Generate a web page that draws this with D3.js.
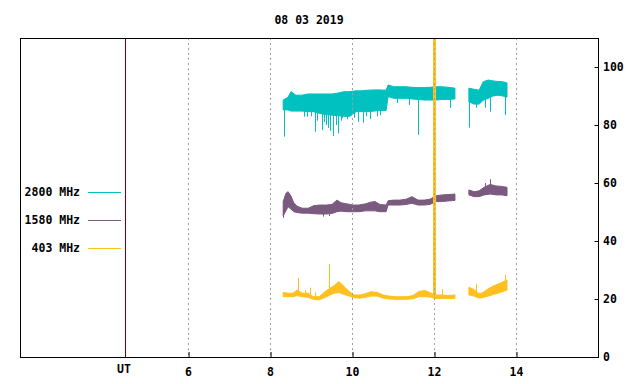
<!DOCTYPE html>
<html>
<head>
<meta charset="utf-8">
<script src="https://cdn.jsdelivr.net/npm/d3@7"></script>
<style>
  body { margin: 0; background: #fff; }
  svg text { font-family: "DejaVu Sans Mono", monospace; font-weight: bold; font-size: 11.5px; fill: #000; }
</style>
</head>
<body>
<div id="chart"></div>
<script>
// ---- data (hours UT, flux units) ----
const title = "08 03 2019";
const xTicks = [6, 8, 10, 12, 14];
const yTicks = [0, 20, 40, 60, 80, 100];
const utHour = 4.46;

// 2800 MHz band (low / high envelope of the noisy trace)
const cyanT  = [8.32, 8.44, 8.51, 8.63, 8.78, 8.93, 9.07, 9.22, 9.37, 9.51, 9.66, 9.80, 9.95, 10.10, 10.24, 10.39, 10.54, 10.68, 10.83, 10.88, 11.02, 11.17, 11.32, 11.46, 11.61, 11.76, 11.90, 12.05, 12.20, 12.34, 12.51,
                12.85, 12.98, 13.10, 13.20, 13.32, 13.44, 13.56, 13.68, 13.78];
const cyanLo = [85.2, 85.2, 84.8, 84.8, 84.8, 84.6, 84.6, 84.0, 83.5, 83.4, 83.2, 83.0, 83.0, 84.6, 84.6, 84.6, 84.8, 85.0, 85.0, 89.8, 89.2, 89.2, 89.2, 89.0, 88.8, 88.6, 88.6, 88.6, 88.8, 88.8, 89.0,
                88.0, 87.2, 87.2, 88.5, 89.2, 90.0, 90.3, 90.0, 89.6];
const cyanHi = [88.6, 89.6, 91.5, 90.3, 90.3, 90.7, 90.7, 90.7, 90.7, 90.7, 91.0, 91.5, 91.5, 91.8, 91.8, 92.0, 92.1, 92.1, 92.0, 93.8, 93.2, 93.2, 93.2, 93.0, 92.9, 92.9, 93.0, 93.2, 93.2, 93.0, 92.7,
                92.7, 92.3, 92.0, 94.9, 95.5, 95.2, 95.0, 94.9, 94.5];
const cyanSpikeT = [8.33, 8.83, 8.90, 9.00, 9.10, 9.15, 9.27, 9.32, 9.37, 9.42, 9.46, 9.54, 9.60, 9.66, 9.72, 9.76, 9.88, 10.05, 10.15, 10.27, 10.35, 10.45, 10.60, 10.68,
                    11.10, 11.39, 11.61, 11.98, 12.39, 12.85, 13.02, 13.24, 13.37, 13.73];
const cyanSpikeV = [76.0, 82.9, 82.9, 83.0, 77.7, 81.5, 78.3, 81.0, 80.0, 79.0, 78.0, 76.2, 80.0, 77.1, 81.5, 82.4, 82.0, 82.5, 81.1, 80.8, 83.0, 82.0, 83.0, 83.4,
                    87.6, 86.9, 76.6, 84.1, 85.9, 79.1, 86.0, 86.0, 84.6, 83.4];

// 1580 MHz band
const purpleT  = [8.32, 8.39, 8.44, 8.51, 8.58, 8.66, 8.78, 8.93, 9.07, 9.22, 9.37, 9.51, 9.63, 9.73, 9.88, 10.02, 10.17, 10.32, 10.46, 10.56, 10.68, 10.83, 10.88, 11.02, 11.17, 11.32, 11.46, 11.61, 11.76, 11.90, 12.05, 12.20, 12.34, 12.51,
                  12.85, 12.98, 13.10, 13.22, 13.37, 13.51, 13.66, 13.78];
const purpleLo = [48.6, 50.5, 51.8, 51.0, 50.1, 49.8, 49.6, 49.6, 49.4, 49.3, 49.3, 49.5, 50.1, 50.3, 50.1, 50.1, 50.1, 50.4, 50.4, 50.4, 50.1, 50.1, 52.4, 52.4, 52.4, 52.6, 53.0, 52.4, 52.4, 52.6, 53.6, 53.6, 53.8, 54.0,
                  55.9, 55.3, 55.3, 55.9, 56.2, 55.9, 55.9, 55.6];
const purpleHi = [53.6, 56.5, 57.0, 55.5, 53.1, 52.0, 51.3, 51.3, 52.2, 52.4, 52.4, 52.6, 54.1, 53.2, 52.8, 52.4, 52.4, 52.8, 53.4, 53.6, 52.6, 52.4, 53.9, 54.1, 54.1, 54.4, 55.3, 54.1, 54.1, 54.4, 55.6, 55.9, 56.0, 56.2,
                  57.6, 57.0, 57.3, 58.5, 59.5, 59.0, 58.8, 58.5];
const purpleSpikeT = [8.32, 9.30, 9.45, 13.24, 13.37];
const purpleSpikeV = [48.0, 48.4, 48.6, 60.0, 61.3];

// 403 MHz band
const orangeT  = [8.32, 8.44, 8.56, 8.66, 8.78, 8.93, 9.05, 9.20, 9.32, 9.44, 9.56, 9.68, 9.80, 9.93, 10.05, 10.20, 10.32, 10.46, 10.61, 10.76, 10.90, 11.05, 11.20, 11.34, 11.49, 11.63, 11.78, 11.93, 12.02, 12.17, 12.32, 12.51,
                  12.85, 12.98, 13.07, 13.17, 13.32, 13.46, 13.61, 13.78];
const orangeLo = [20.8, 20.8, 20.8, 21.2, 20.8, 20.6, 19.9, 19.7, 20.4, 21.2, 22.0, 22.2, 21.6, 21.0, 20.4, 20.3, 20.6, 21.0, 21.0, 20.3, 20.0, 19.9, 19.9, 19.9, 20.1, 20.8, 20.8, 20.6, 20.2, 20.2, 20.2, 20.2,
                  21.4, 21.0, 20.4, 20.4, 21.0, 21.6, 22.2, 23.1];
const orangeHi = [22.2, 22.0, 22.0, 23.1, 22.0, 22.0, 20.8, 20.8, 22.3, 23.5, 24.6, 26.0, 24.4, 22.6, 21.4, 21.4, 21.8, 22.5, 22.3, 21.4, 21.0, 20.8, 20.8, 20.8, 21.2, 22.6, 22.9, 22.0, 21.4, 21.4, 21.2, 21.4,
                  24.0, 23.3, 22.0, 22.0, 23.5, 24.6, 25.4, 26.6];
const orangeSpikeT = [8.68, 8.85, 8.98, 9.10, 9.44, 11.97, 12.20, 13.02, 13.73];
const orangeSpikeV = [27.3, 23.1, 23.9, 22.3, 32.1, 31.7, 23.4, 25.2, 28.3];
// radio burst around 12 UT, off the top of the scale
const burstT = [11.975, 12.05];
const burstV = [21.0, 110];

const legendNames = ["2800 MHz", "1580 MHz", "403 MHz"];
const colors = ["#00c0c0", "#7a5a7e", "#ffc020"];

// ---- layout ----
const width = 640, height = 384;
const margin = {top: 38, right: 42, bottom: 27, left: 20};
const plotW = width - margin.left - margin.right,
      plotH = height - margin.top - margin.bottom;

const svg = d3.select("#chart")
  .append("svg")
  .attr("width", width)
  .attr("height", height);

const x = d3.scaleLinear().domain([1.9, 16]).range([margin.left, margin.left + plotW]);
const y = d3.scaleLinear().domain([0, 110]).range([margin.top + plotH, margin.top]);

svg.append("clipPath").attr("id", "plotclip")
  .append("rect")
  .attr("x", margin.left).attr("y", margin.top)
  .attr("width", plotW).attr("height", plotH);

const dataG = svg.append("g").attr("clip-path", "url(#plotclip)");

// split a band into pieces wherever the data has a gap
function segments(ts, lo, hi) {
  const segs = [];
  let cur = [];
  ts.forEach((t, i) => {
    if (i > 0 && t - ts[i - 1] > 0.25) { segs.push(cur); cur = []; }
    cur.push({t: t, lo: lo[i], hi: hi[i]});
  });
  segs.push(cur);
  return segs;
}

const band = d3.area()
  .x(d => x(d.t))
  .y0(d => y(d.lo))
  .y1(d => y(d.hi));

function drawSeries(ts, lo, hi, spT, spV, color) {
  const g = dataG.append("g");
  g.selectAll("path")
    .data(segments(ts, lo, hi))
    .enter()
    .append("path")
    .attr("d", band)
    .attr("fill", color)
    .attr("stroke", color)
    .attr("stroke-width", 1);

  const bis = d3.bisector(d => d).center;
  g.selectAll("line")
    .data(spT.map((t, i) => ({t: t, v: spV[i], k: bis(ts, t)})))
    .enter()
    .append("line")
    .attr("x1", d => Math.round(x(d.t)) + 0.5)
    .attr("x2", d => Math.round(x(d.t)) + 0.5)
    .attr("y1", d => y((lo[d.k] + hi[d.k]) / 2))
    .attr("y2", d => y(d.v))
    .attr("stroke", color)
    .attr("stroke-width", 1);
}

drawSeries(cyanT, cyanLo, cyanHi, cyanSpikeT, cyanSpikeV, colors[0]);
drawSeries(purpleT, purpleLo, purpleHi, purpleSpikeT, purpleSpikeV, colors[1]);
drawSeries(orangeT, orangeLo, orangeHi, orangeSpikeT, orangeSpikeV, colors[2]);

dataG.append("rect")
  .attr("x", x(burstT[0]))
  .attr("width", x(burstT[1]) - x(burstT[0]))
  .attr("y", y(burstV[1]))
  .attr("height", y(burstV[0]) - y(burstV[1]))
  .attr("fill", colors[2]);

// dashed vertical grid, drawn in front of the data
svg.append("g")
  .selectAll("line")
  .data(xTicks)
  .enter()
  .append("line")
  .attr("x1", d => Math.round(x(d)) + 0.5)
  .attr("x2", d => Math.round(x(d)) + 0.5)
  .attr("y1", margin.top)
  .attr("y2", margin.top + plotH)
  .attr("stroke", "#a0a0a0")
  .attr("stroke-dasharray", "2,3");

// UT marker line
svg.append("line")
  .attr("x1", Math.round(x(utHour)) + 0.5)
  .attr("x2", Math.round(x(utHour)) + 0.5)
  .attr("y1", margin.top)
  .attr("y2", margin.top + plotH)
  .attr("stroke", "#7f0000");

// axes
const xAxis = svg.append("g")
  .attr("transform", `translate(0,${margin.top + plotH})`)
  .call(d3.axisBottom(x).tickValues(xTicks).tickSize(-5).tickPadding(11).tickFormat(d3.format("d")));
xAxis.select(".domain").remove();
xAxis.selectAll("text").attr("font-family", null).attr("font-size", null);

const yAxis = svg.append("g")
  .attr("transform", `translate(${margin.left + plotW},0)`)
  .call(d3.axisRight(y).tickValues(yTicks).tickSize(-4).tickPadding(5));
yAxis.select(".domain").remove();
yAxis.selectAll("text").attr("font-family", null).attr("font-size", null);

svg.selectAll(".tick line").attr("transform", "translate(0.5,0)");

// frame
svg.append("rect")
  .attr("x", margin.left + 0.5)
  .attr("y", margin.top + 0.5)
  .attr("width", plotW)
  .attr("height", plotH)
  .attr("fill", "none")
  .attr("stroke", "#000");

svg.append("text")
  .attr("x", x(utHour) - 1)
  .attr("y", 372.5)
  .attr("text-anchor", "middle")
  .text("UT");

svg.append("text")
  .attr("x", margin.left + plotW / 2)
  .attr("y", 23.5)
  .attr("text-anchor", "middle")
  .text(title);

// legend
const legend = svg.append("g");
legendNames.forEach((name, i) => {
  const ly = 192 + i * 28;
  legend.append("text")
    .attr("x", 80)
    .attr("y", ly + 4)
    .attr("text-anchor", "end")
    .text(name);
  legend.append("line")
    .attr("x1", 88).attr("x2", 121)
    .attr("y1", ly + 0.5).attr("y2", ly + 0.5)
    .attr("stroke", colors[i]);
});
</script>
</body>
</html>
